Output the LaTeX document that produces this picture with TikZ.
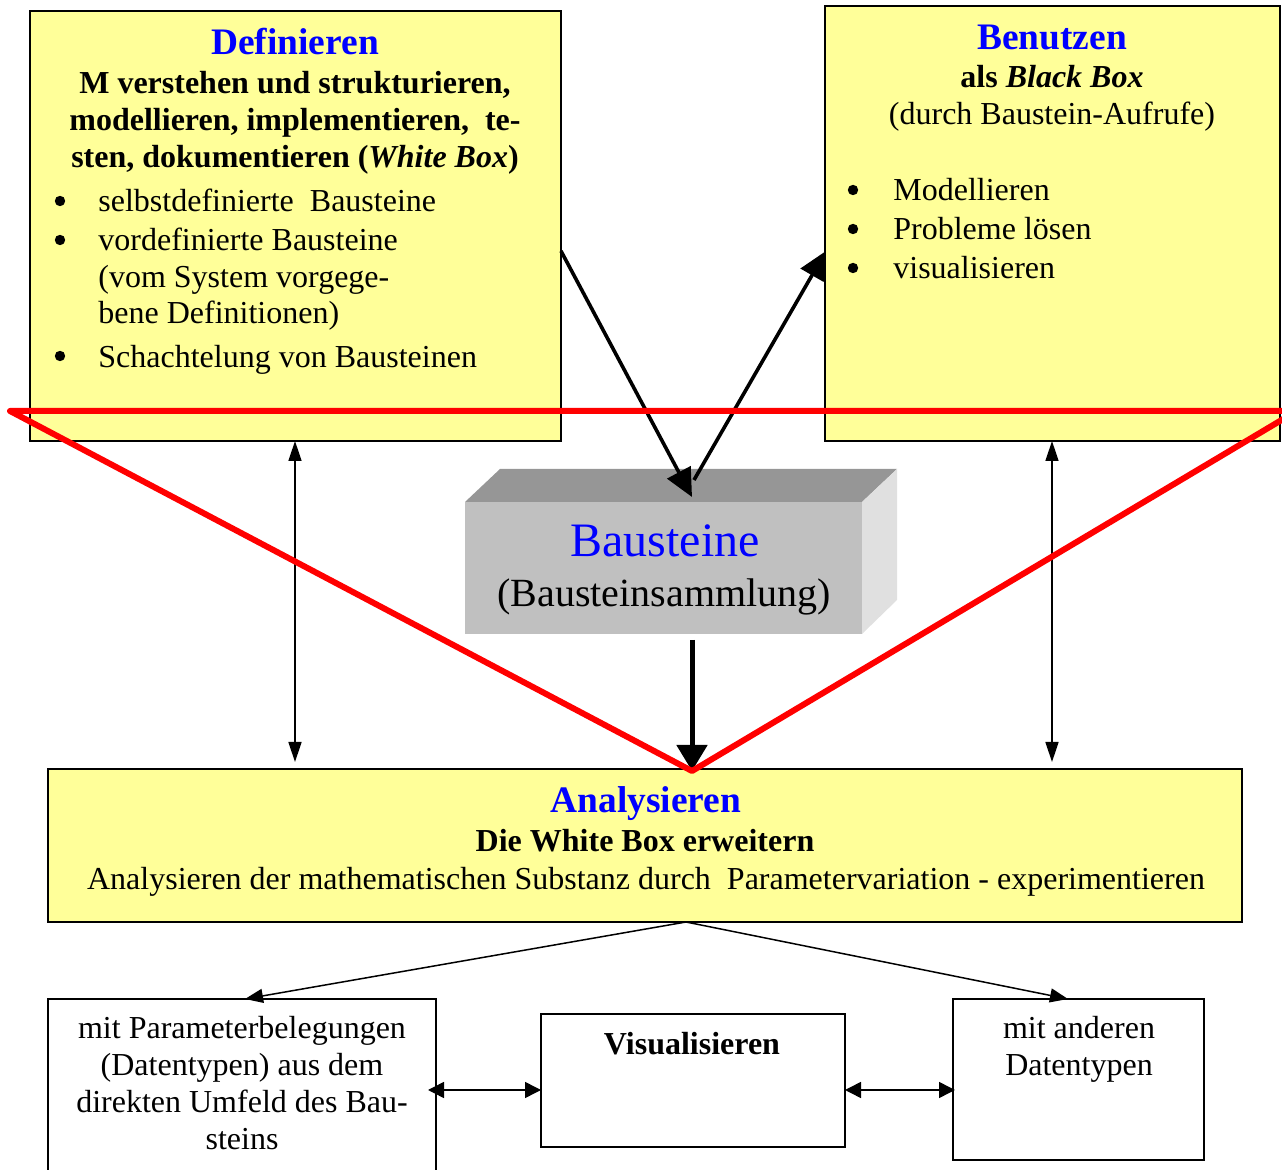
\documentclass[tikz,border=0pt]{standalone}
\usepackage{fontspec}
\setmainfont{Liberation Serif}
\usetikzlibrary{arrows.meta}
\definecolor{lyellow}{HTML}{FFFF99}
\definecolor{hblue}{HTML}{0000FF}
\definecolor{rred}{HTML}{FF0000}
\definecolor{gfront}{HTML}{C0C0C0}
\definecolor{gtop}{HTML}{969696}
\definecolor{gside}{HTML}{E0E0E0}
\begin{document}
\begin{tikzpicture}[x=0.5pt,y=-0.5pt,
  ybox/.style={draw=black,line width=0.75pt,fill=lyellow,inner sep=0pt,outer sep=0pt},
  wbox/.style={draw=black,line width=0.75pt,fill=white,inner sep=0pt,outer sep=0pt},
  txt/.style={anchor=base,inner sep=0pt,font=\fontsize{16}{19}\selectfont},
  ltxt/.style={anchor=base west,inner sep=0pt,font=\fontsize{16}{19}\selectfont},
  ttl/.style={anchor=base,inner sep=0pt,text=hblue,font=\fontsize{18.7}{22}\selectfont\bfseries},
  bld/.style={anchor=base,inner sep=0pt,font=\fontsize{16}{19}\selectfont\bfseries},
  bul/.style={circle,fill=black,inner sep=0pt,minimum size=5.2pt},
  thickarrow/.style={line width=1.8pt,-{Triangle[length=14pt,width=13pt]}},
  fatarrow/.style={line width=2.5pt,-{Triangle[length=13pt,width=15pt]}},
  thinboth/.style={line width=0.75pt,{Triangle[length=10pt,width=6.5pt]}-{Triangle[length=10pt,width=6.5pt]}},
  thinarrow/.style={line width=0.75pt,-{Triangle[length=9pt,width=7pt]}},
  smallboth/.style={line width=0.75pt,{Triangle[length=8pt,width=8pt]}-{Triangle[length=8pt,width=8pt]}},
  redline/.style={draw=rred,line width=3pt,line join=round}
]
\useasboundingbox (0,0) rectangle (1282,1170);
\clip (0,0) rectangle (1282,1170);

% boxes
\node[ybox,minimum width=265.5pt,minimum height=215pt] (def) at (295.5,226) {};
\node[ybox,minimum width=227.5pt,minimum height=217.5pt] (ben) at (1052.5,223.5) {};
\node[ybox,minimum width=597pt,minimum height=76.5pt] (ana) at (645,845.5) {};
\node[wbox,minimum width=194pt,minimum height=93pt] (pb) at (242,1092) {};
\node[wbox,minimum width=152pt,minimum height=66.5pt] (vis) at (693,1080.5) {};
\node[wbox,minimum width=125.5pt,minimum height=80.5pt] (dt) at (1078.5,1079.5) {};

% 3D block
\node[fill=gfront,inner sep=0pt,outer sep=0pt,minimum width=198.5pt,minimum height=66pt] (bst) at (663.5,568) {};
\fill[gtop] (bst.north west) -- ++(35,-33) -- ++(397,0) -- (bst.north east) -- cycle;
\fill[gside] (bst.north east) -- ++(35,-33) -- ++(0,131) -- (bst.south east) -- cycle;

% Definieren texts
\node[ttl] (tdef) at (295,55) {Definieren};
\node[bld] (d1) at (295,94) {M verstehen und strukturieren,};
\node[bld] (d2) at (295,131) {modellieren, implementieren,\ \ te-};
\node[bld] (d3) at (295,168) {sten, dokumentieren (\textit{White Box})};
\node[bul] (b1) at (60,201) {};
\node[ltxt] (l1) at (98,212) {selbstdefinierte\ \ Bausteine};
\node[bul] (b2) at (60,240) {};
\node[ltxt] (l2) at (98,251) {vordefinierte Bausteine};
\node[ltxt] (l3) at (98,288) {(vom System vorgege-};
\node[ltxt] (l4) at (98,324) {bene Definitionen)};
\node[bul] (b3) at (60,356) {};
\node[ltxt] (l5) at (98,368) {Schachtelung von Bausteinen};

% Benutzen texts
\node[ttl] (tben) at (1052,50) {Benutzen};
\node[bld] (e1) at (1052,88) {als \textit{Black Box}};
\node[txt] (e2) at (1052,125) {(durch Baustein-Aufrufe)};
\node[bul] (c1) at (853,190) {};
\node[ltxt] (m1) at (893,201) {Modellieren};
\node[bul] (c2) at (853,229) {};
\node[ltxt] (m2) at (893,240) {Probleme lösen};
\node[bul] (c3) at (853,268) {};
\node[ltxt] (m3) at (893,279) {visualisieren};

% Bausteine texts
\node[anchor=base,inner sep=0pt,text=hblue,font=\fontsize{24}{28}\selectfont] (tbst) at (665,557) {Bausteine};
\node[anchor=base,inner sep=0pt,font=\fontsize{20}{24}\selectfont] (sbst) at (664,607) {(Bausteinsammlung)};

% Analysieren texts
\node[ttl] (tana) at (646,813) {Analysieren};
\node[bld] (a1) at (645,852) {Die White Box erweitern};
\node[txt] (a2) at (646,890) {Analysieren der mathematischen Substanz durch\ \ Parametervariation - experimentieren};

% bottom texts
\node[txt] (p1) at (242,1039) {mit Parameterbelegungen};
\node[txt] (p2) at (242,1076) {(Datentypen) aus dem};
\node[txt] (p3) at (242,1113) {direkten Umfeld des Bau-};
\node[txt] (p4) at (242,1150) {steins};
\node[bld] (v1) at (692,1055) {Visualisieren};
\node[txt] (q1) at (1079,1039) {mit anderen};
\node[txt] (q2) at (1079,1076) {Datentypen};

% connector end points
\coordinate (s1) at (561,251);
\coordinate (t1) at (692,497);
\coordinate (s2) at (694,480);
\coordinate (t2) at (826,251);
\coordinate (s3) at (692,640);
\coordinate (t3) at (692,771);
\coordinate (u1) at (295,441);
\coordinate (u2) at (295,762);
\coordinate (w1) at (1052,441);
\coordinate (w2) at (1052,762);
\coordinate (an) at (686,922);
\coordinate (pbn) at (245,999);
\coordinate (dtn) at (1068,999);
\coordinate (pbe) at (428,1090);
\coordinate (visw) at (541,1090);
\coordinate (vise) at (845,1090);
\coordinate (dtw) at (955,1090);

% arrows
\draw[thickarrow] (s1) -- (t1);
\draw[thickarrow] (s2) -- (t2);
\draw[fatarrow] (s3) -- (t3);
\draw[thinboth] (u1) -- (u2);
\draw[thinboth] (w1) -- (w2);
\draw[thinarrow] (an) -- (pbn);
\draw[thinarrow] (an) -- (dtn);
\draw[smallboth] (pbe) -- (visw);
\draw[smallboth] (vise) -- (dtw);

% red lines
\coordinate (r0) at (1290,411);
\coordinate (r1) at (10,411);
\coordinate (r2) at (692,771);
\coordinate (r3) at (1290,415);
\draw[redline] (r0) -- (r1) -- (r2) -- (r3);
\end{tikzpicture}
\end{document}
